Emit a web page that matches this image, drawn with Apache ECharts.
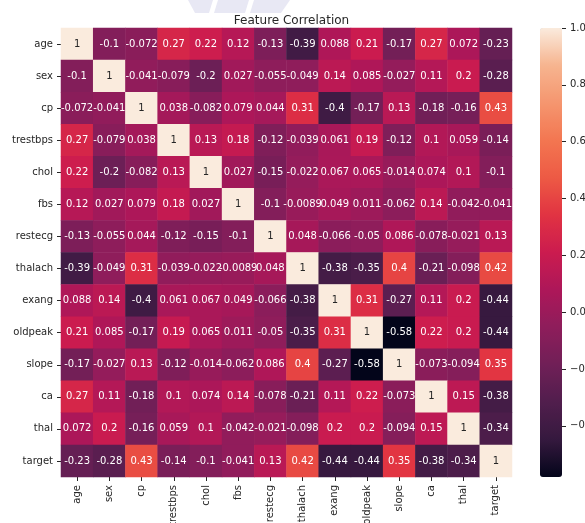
<!DOCTYPE html>
<html>
<head>
<meta charset="utf-8">
<script src="https://cdn.jsdelivr.net/npm/echarts@6/dist/echarts.min.js"></script>
<style>
  html, body { margin: 0; padding: 0; background: #ffffff; }
  #chart { width: 585px; height: 523px; }
</style>
</head>
<body>
<div id="chart"></div>
<script>
// Feature names, in row/column order
const features = ['age', 'sex', 'cp', 'trestbps', 'chol', 'fbs', 'restecg',
  'thalach', 'exang', 'oldpeak', 'slope', 'ca', 'thal', 'target'];

// Pairwise correlation coefficients, one row per feature
const rowAge      = [1, -0.1, -0.072, 0.27, 0.22, 0.12, -0.13, -0.39, 0.088, 0.21, -0.17, 0.27, 0.072, -0.23];
const rowSex      = [-0.1, 1, -0.041, -0.079, -0.2, 0.027, -0.055, -0.049, 0.14, 0.085, -0.027, 0.11, 0.2, -0.28];
const rowCp       = [-0.072, -0.041, 1, 0.038, -0.082, 0.079, 0.044, 0.31, -0.4, -0.17, 0.13, -0.18, -0.16, 0.43];
const rowTrestbps = [0.27, -0.079, 0.038, 1, 0.13, 0.18, -0.12, -0.039, 0.061, 0.19, -0.12, 0.1, 0.059, -0.14];
const rowChol     = [0.22, -0.2, -0.082, 0.13, 1, 0.027, -0.15, -0.022, 0.067, 0.065, -0.014, 0.074, 0.1, -0.1];
const rowFbs      = [0.12, 0.027, 0.079, 0.18, 0.027, 1, -0.1, -0.0089, 0.049, 0.011, -0.062, 0.14, -0.042, -0.041];
const rowRestecg  = [-0.13, -0.055, 0.044, -0.12, -0.15, -0.1, 1, 0.048, -0.066, -0.05, 0.086, -0.078, -0.021, 0.13];
const rowThalach  = [-0.39, -0.049, 0.31, -0.039, -0.022, -0.0089, 0.048, 1, -0.38, -0.35, 0.4, -0.21, -0.098, 0.42];
const rowExang    = [0.088, 0.14, -0.4, 0.061, 0.067, 0.049, -0.066, -0.38, 1, 0.31, -0.27, 0.11, 0.2, -0.44];
const rowOldpeak  = [0.21, 0.085, -0.17, 0.19, 0.065, 0.011, -0.05, -0.35, 0.31, 1, -0.58, 0.22, 0.2, -0.44];
const rowSlope    = [-0.17, -0.027, 0.13, -0.12, -0.014, -0.062, 0.086, 0.4, -0.27, -0.58, 1, -0.073, -0.094, 0.35];
const rowCa       = [0.27, 0.11, -0.18, 0.1, 0.074, 0.14, -0.078, -0.21, 0.11, 0.22, -0.073, 1, 0.15, -0.38];
const rowThal     = [0.072, 0.2, -0.16, 0.059, 0.1, -0.042, -0.021, -0.098, 0.2, 0.2, -0.094, 0.15, 1, -0.34];
const rowTarget   = [-0.23, -0.28, 0.43, -0.14, -0.1, -0.041, 0.13, 0.42, -0.44, -0.44, 0.35, -0.38, -0.34, 1];

const matrix = [rowAge, rowSex, rowCp, rowTrestbps, rowChol, rowFbs, rowRestecg,
  rowThalach, rowExang, rowOldpeak, rowSlope, rowCa, rowThal, rowTarget];

// Colour bar ticks
const colorbarTicks = [-0.4, -0.2, 0.0, 0.2, 0.4, 0.6, 0.8, 1.0];

// "rocket" colour ramp, evenly spaced stops from dark to light
const rocket = ['#03051a', '#35193e', '#511e4d', '#701f57', '#8e1d5b', '#ad1759',
  '#cb1b4f', '#e13342', '#ed5a44', '#f37651', '#f5966f', '#f6b48f', '#faebdd'];

const FONT = 'DejaVu Sans';
const INK = '#262626';
const vMin = Math.min(...matrix.flat());
const vMax = Math.max(...matrix.flat());

const cells = [];
matrix.forEach((row, r) => {
  row.forEach((v, c) => {
    const light = (v - vMin) / (vMax - vMin) > 0.75;
    cells.push({ value: [c, r, v], label: { color: light ? INK : '#ffffff' } });
  });
});

const fmtTick = v => (v < 0 ? '\u2212' : '') + Math.abs(v).toFixed(1);

// faint lavender banner strip along the top edge
const bannerColor = '#e8e8f4';
const banner = [
  [[188, 0], [213, 0], [209, 13], [195, 13]],
  [[218, 0], [249, 0], [245, 13], [214, 13]],
  [[254, 0], [290, 0], [281, 13], [250, 13]]
].map(pts => ({
  type: 'polygon', silent: true, z: -1,
  shape: { points: pts },
  style: { fill: bannerColor }
}));

const chart = echarts.init(document.getElementById('chart'), null, { renderer: 'canvas' });
chart.setOption({
  backgroundColor: '#ffffff',
  animation: false,
  graphic: banner,
  title: {
    text: 'Feature Correlation',
    left: 286.5, top: 10, textAlign: 'center',
    textStyle: { fontFamily: FONT, fontSize: 12, fontWeight: 'normal', color: INK }
  },
  grid: [
    { left: 61, top: 28, width: 451, height: 449, outerBoundsMode: 'none' },
    { left: 540, top: 28, width: 22, height: 449, outerBoundsMode: 'none' }
  ],
  xAxis: [
    {
      type: 'category', data: features, gridIndex: 0, position: 'bottom',
      axisLine: { show: false },
      axisTick: { show: true, alignWithLabel: true, length: 4, lineStyle: { color: INK } },
      axisLabel: { rotate: 90, fontFamily: FONT, fontSize: 10, color: INK, margin: 8 },
      splitLine: { show: false }
    },
    { type: 'category', data: [''], gridIndex: 1, show: false }
  ],
  yAxis: [
    {
      type: 'category', data: features, gridIndex: 0, inverse: true,
      axisLine: { show: false },
      axisTick: { show: true, alignWithLabel: true, length: 4, lineStyle: { color: INK } },
      axisLabel: { fontFamily: FONT, fontSize: 10, color: INK, margin: 8 },
      splitLine: { show: false }
    },
    {
      type: 'value', gridIndex: 1, position: 'right', min: vMin, max: vMax,
      axisLine: { show: false },
      splitLine: { show: false },
      axisTick: { show: true, length: 4, customValues: colorbarTicks, lineStyle: { color: INK } },
      axisLabel: { customValues: colorbarTicks, formatter: fmtTick, fontFamily: FONT, fontSize: 10, color: INK, margin: 8 }
    }
  ],
  visualMap: {
    type: 'continuous', min: vMin, max: vMax, seriesIndex: 0, dimension: 2,
    calculable: false, orient: 'vertical',
    left: 540, top: 28, itemWidth: 22, itemHeight: 449, padding: 0,
    text: null, showLabel: false,
    inRange: { color: rocket }
  },
  series: [{
    type: 'heatmap', xAxisIndex: 0, yAxisIndex: 0,
    data: cells,
    itemStyle: { borderWidth: 0 },
    label: {
      show: true, fontFamily: FONT, fontSize: 10,
      formatter: p => String(p.value[2])
    },
    emphasis: { disabled: true }
  }]
});
</script>
</body>
</html>
